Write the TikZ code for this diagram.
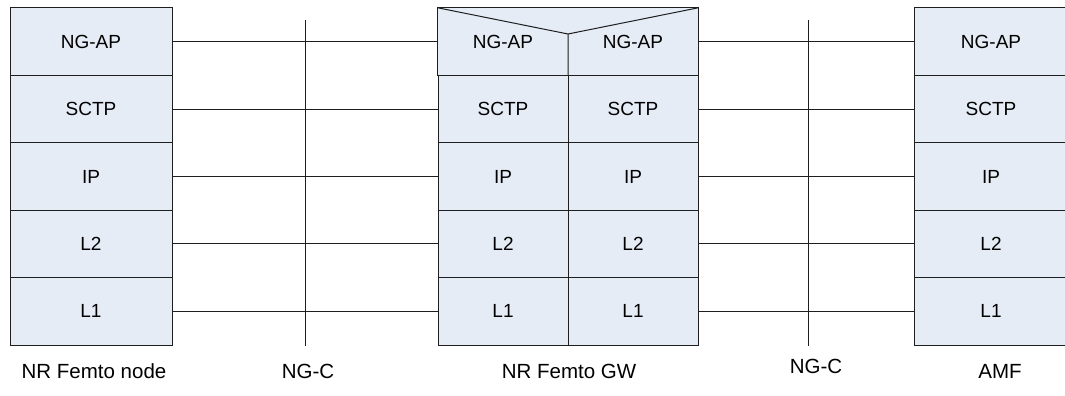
\documentclass[tikz,border=0pt]{standalone}
\usepackage{fontspec}
\setmainfont{Liberation Sans}
\definecolor{cellFill}{RGB}{230,236,246}
\definecolor{lineGrey}{RGB}{30,30,30}

\tikzset{
  layerBox/.style={rectangle, draw=lineGrey, line width=1pt, fill=cellFill, minimum height=67.4pt, inner sep=0pt, font=\fontsize{19}{23}\selectfont},
  layerFill/.style={rectangle, fill=cellFill, minimum height=67.4pt, inner sep=0pt, font=\fontsize{19}{23}\selectfont},
  link/.style={draw=lineGrey, line width=1pt},
  caption/.style={font=\fontsize{20.5}{24}\selectfont}
}

\begin{document}
\begin{tikzpicture}[x=1pt, y=-1pt]

\useasboundingbox (0,0) rectangle (1065,396);

% protocol stacks
\foreach \lbl [count=\i] in {NG-AP,SCTP,IP,L2,L1} {
  \node (femto\i) [layerBox, minimum width=162pt] at (91,{8+33.7+67.4*(\i-1)}) {\lbl};
  \node (amf\i) [layerBox, minimum width=154pt] at (991,{8+33.7+67.4*(\i-1)}) {\lbl};
}
\node (gwL1) [layerFill, minimum width=130pt] at (503,41.7) {NG-AP};
\node (gwR1) [layerFill, minimum width=130pt] at (633,41.7) {NG-AP};
\foreach \lbl [count=\i from 2] in {SCTP,IP,L2,L1} {
  \node (gwL\i) [layerBox, minimum width=130pt] at (503,{8+33.7+67.4*(\i-1)}) {\lbl};
  \node (gwR\i) [layerBox, minimum width=130pt] at (633,{8+33.7+67.4*(\i-1)}) {\lbl};
}

% GW top row with split
\coordinate (gwTip) at (568,34);
\draw[link] (gwL1.south west) -- (gwL1.north west) -- (gwR1.north east) -- (gwR1.south east);
\draw[link] (gwL1.north west) -- (gwTip) -- (gwR1.north east);
\draw[link] (gwTip) -- (gwL1.south east);

% links between peers
\foreach \i in {1,...,5} {
  \draw[link] (femto\i.east) -- (gwL\i.west);
  \draw[link] (gwR\i.east) -- (amf\i.west);
}

% interface markers
\coordinate (ngcLeftTop) at (305,20);
\coordinate (ngcLeftBot) at (305,346);
\coordinate (ngcRightTop) at (808,20);
\coordinate (ngcRightBot) at (808,346);
\draw[link] (ngcLeftTop) -- (ngcLeftBot);
\draw[link] (ngcRightTop) -- (ngcRightBot);

% captions
\node (femtoCap) [caption] at (94,371) {NR Femto node};
\node (ngcLeftCap) [caption] at (308,371) {NG-C};
\node (gwCap) [caption] at (569,371) {NR Femto GW};
\node (ngcRightCap) [caption] at (816,366) {NG-C};
\node (amfCap) [caption] at (1000,371) {AMF};

\end{tikzpicture}
\end{document}
